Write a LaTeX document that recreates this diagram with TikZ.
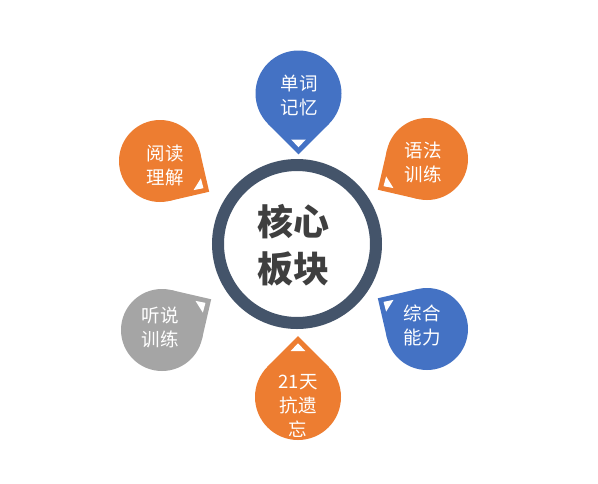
\documentclass[tikz,border=0pt]{standalone}
\usepackage{fontspec}
\newfontfamily\cjk{Noto Sans CJK SC}
\definecolor{myorange}{HTML}{ED7D31}
\definecolor{myblue}{HTML}{4472C4}
\definecolor{mygrey}{HTML}{A5A5A5}
\definecolor{myring}{HTML}{44546A}
\definecolor{mytext}{HTML}{3F3F3F}
\newcommand\tdrop[4]{%
  \begin{scope}[shift={#2}]
    \fill[#1] (0,0) circle[radius=#4];
    \fill[#1] (#3:{#4*1.4142}) -- (#3+45:#4) -- (0,0) -- (#3-45:#4) -- cycle;
    \fill[white] (#3:{#4*1.25}) -- (#3+9:{#4*1.083}) -- (#3-9:{#4*1.083}) -- cycle;
  \end{scope}}
\tikzset{
  wtext/.style={text=white, align=center, inner sep=0pt, font=\cjk\fontsize{18.5}{24}\selectfont},
  ctext/.style={text=mytext, align=center, inner sep=0pt, font=\cjk\bfseries\fontsize{36}{47}\selectfont},
  ringline/.style={draw=myring, line width=12pt}
}
\begin{document}
\begin{tikzpicture}[x=1pt,y=-1pt]
\fill[white] (0,0) rectangle (598,483);
\useasboundingbox (0,0) rectangle (598,483);
\draw[ringline] (297,244) circle[radius=79];
\node[ctext] (core) at (293,245) {核心\\板块};
\tdrop{myblue}{(298.5,93.5)}{90}{43}
\node[wtext] (n1) at (299,95) {单词\\记忆};
\tdrop{myorange}{(427,159)}{148}{41}
\node[wtext] (n2) at (423,162) {语法\\训练};
\tdrop{myblue}{(427,329)}{212}{41}
\node[wtext] (n3) at (422,325) {综合\\能力};
\tdrop{myorange}{(298,397)}{-90}{43}
\node[wtext] (n4) at (298,406) {21天\\抗遗\\忘};
\tdrop{mygrey}{(162,330)}{-32}{41}
\node[wtext] (n5) at (160,327) {听说\\训练};
\tdrop{myorange}{(160,161)}{32}{41}
\node[wtext] (n6) at (165,165) {阅读\\理解};
\end{tikzpicture}
\end{document}
